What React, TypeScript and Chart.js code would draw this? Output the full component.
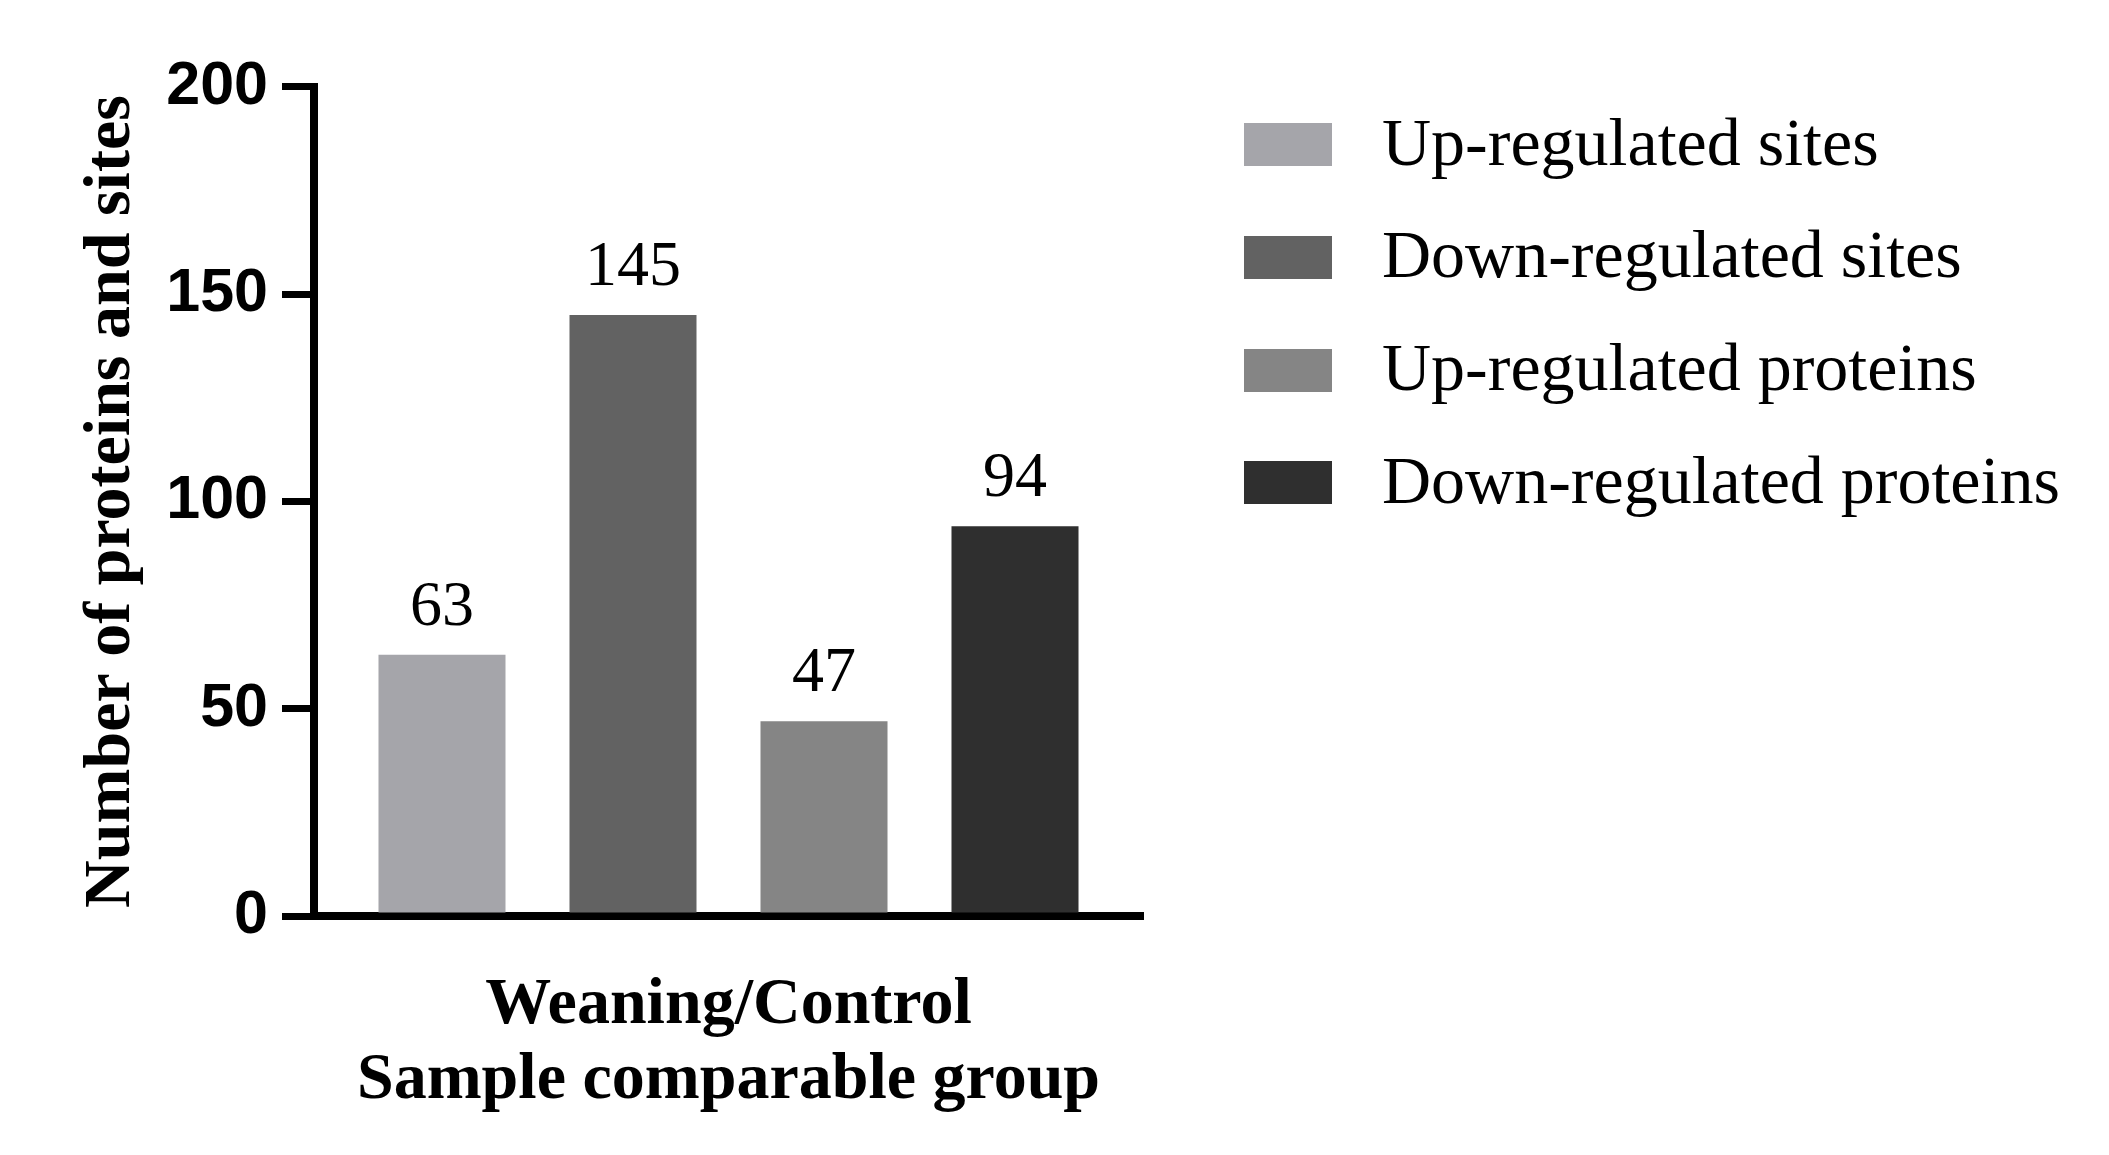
import React, { useEffect, useRef } from "react";
import { Chart, registerables } from "chart.js";

Chart.register(...registerables);

// ---- data ----
const categories = ["Weaning/Control"];
const seriesLabels = [
  "Up-regulated sites",
  "Down-regulated sites",
  "Up-regulated proteins",
  "Down-regulated proteins",
];
const upSites = [63];
const downSites = [145];
const upProteins = [47];
const downProteins = [94];
const seriesColors = ["#a5a5aa", "#626262", "#858585", "#2f2f2f"];
const yTickValues = [0, 50, 100, 150, 200];
const yAxisTitle = "Number of proteins and sites";
const xAxisTitle = "Sample comparable group";

const SERIF = '"Liberation Serif", "Times New Roman", Times, serif';
const SANS = '"Liberation Sans", Arial, Helvetica, sans-serif';

const W = 2093;
const H = 1139;

const valueLabels = {
  id: "valueLabels",
  afterDatasetsDraw(chart: any) {
    const ctx = chart.ctx;
    ctx.save();
    ctx.font = `64px ${SERIF}`;
    ctx.fillStyle = "#000";
    ctx.textAlign = "center";
    ctx.textBaseline = "alphabetic";
    chart.data.datasets.forEach((ds: any, i: number) => {
      const meta = chart.getDatasetMeta(i);
      meta.data.forEach((el: any, j: number) => {
        ctx.fillText(String(ds.data[j]), el.x, el.y - 30);
      });
    });
    ctx.restore();
  },
};

// legend drawn beside the plot, from the datasets' labels and colours
const sideLegend = {
  id: "sideLegend",
  afterDraw(chart: any) {
    const ctx = chart.ctx;
    const area = chart.chartArea;
    const boxX = area.right + 101;
    const boxW = 88;
    const boxH = 43;
    const textX = boxX + boxW + 50;
    const rowGap = 112.6;
    const firstY = area.top + 58;
    ctx.save();
    ctx.font = `68px ${SERIF}`;
    ctx.textAlign = "left";
    ctx.textBaseline = "middle";
    chart.data.datasets.forEach((ds: any, i: number) => {
      const cy = firstY + i * rowGap;
      ctx.fillStyle = ds.backgroundColor;
      ctx.fillRect(boxX, Math.round(cy - boxH / 2), boxW, boxH);
      ctx.fillStyle = "#000";
      ctx.fillText(ds.label, textX, cy + 2);
    });
    ctx.restore();
  },
};

export default function App() {
  const ref = useRef<HTMLCanvasElement | null>(null);

  useEffect(() => {
    if (!ref.current) return;
    const seriesData = [upSites, downSites, upProteins, downProteins];
    const chart = new Chart(ref.current, {
      type: "bar",
      data: {
        labels: categories,
        datasets: seriesLabels.map((label, i) => ({
          label,
          data: seriesData[i],
          backgroundColor: seriesColors[i],
          borderWidth: 0,
          barPercentage: 0.665,
          categoryPercentage: 0.9216,
        })),
      },
      options: {
        responsive: false,
        animation: false,
        devicePixelRatio: 1,
        layout: { padding: { top: 53, right: 958, bottom: 0, left: 0 } },
        plugins: {
          tooltip: { enabled: false },
          legend: { display: false },
        },
        scales: {
          x: {
            grid: { display: false, drawTicks: false },
            border: { display: true, color: "#000", width: 8 },
            ticks: {
              color: "#000",
              padding: 50,
              maxRotation: 0,
              font: { family: SERIF, size: 66, weight: "bold", lineHeight: 1.2 },
            },
            title: {
              display: true,
              text: xAxisTitle,
              color: "#000",
              font: { family: SERIF, size: 66, weight: "bold", lineHeight: 1.1 },
              padding: { top: 0, bottom: 29.7 },
            },
            afterFit: (axis: any) => {
              axis.height = 231;
            },
          },
          y: {
            min: 0,
            max: 200,
            afterBuildTicks: (axis: any) => {
              axis.ticks = yTickValues.map((v) => ({ value: v }));
            },
            grid: {
              drawOnChartArea: false,
              drawTicks: true,
              tickLength: 32,
              lineWidth: 7,
              color: "#000",
            },
            border: { display: true, color: "#000", width: 8 },
            ticks: {
              color: "#000",
              padding: 14,
              font: { family: SANS, size: 61, weight: "bold", lineHeight: 2.131 },
            },
            title: {
              display: true,
              text: yAxisTitle,
              color: "#000",
              font: { family: SERIF, size: 66, weight: "bold", lineHeight: 1.2 },
              padding: { top: 64, bottom: 4 },
            },
            afterFit: (axis: any) => {
              axis.width = 306;
            },
          },
        },
      },
      plugins: [valueLabels, sideLegend],
    } as any);
    return () => chart.destroy();
  }, []);

  return (
    <div style={{ width: W, height: H }}>
      <canvas ref={ref} width={W} height={H} style={{ display: "block" }} />
    </div>
  );
}
